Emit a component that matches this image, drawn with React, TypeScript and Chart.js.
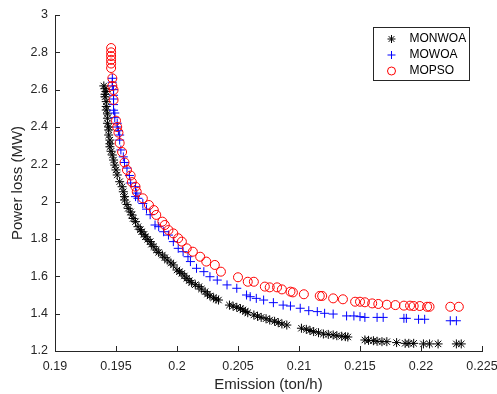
import React, { useEffect, useRef } from "react";
import { Chart, registerables } from "chart.js";

Chart.register(...registerables);

const seriesNames = ["MONWOA", "MOWOA", "MOPSO"];

const monwoaX = [0.1940, 0.1941, 0.1942, 0.1941, 0.1941, 0.1942, 0.1942, 0.1942, 0.1943, 0.1943, 0.1943, 0.1944, 0.1944, 0.1944, 0.1945, 0.1945, 0.1945, 0.1946, 0.1947, 0.1948, 0.1949, 0.1950, 0.1951, 0.1953, 0.1955, 0.1956, 0.1957, 0.1957, 0.1959, 0.1960, 0.1962, 0.1963, 0.1964, 0.1966, 0.1968, 0.1970, 0.1971, 0.1973, 0.1974, 0.1976, 0.1978, 0.1979, 0.1981, 0.1983, 0.1985, 0.1988, 0.1990, 0.1992, 0.1995, 0.1997, 0.2000, 0.2002, 0.2004, 0.2006, 0.2008, 0.2010, 0.2012, 0.2015, 0.2018, 0.2020, 0.2023, 0.2025, 0.2027, 0.2030, 0.2032, 0.2034, 0.2043, 0.2046, 0.2049, 0.2052, 0.2054, 0.2056, 0.2058, 0.2063, 0.2066, 0.2069, 0.2073, 0.2076, 0.2080, 0.2083, 0.2086, 0.2090, 0.2102, 0.2106, 0.2109, 0.2112, 0.2116, 0.2120, 0.2124, 0.2128, 0.2131, 0.2135, 0.2138, 0.2140, 0.2154, 0.2157, 0.2161, 0.2164, 0.2168, 0.2172, 0.2180, 0.2187, 0.2190, 0.2194, 0.2202, 0.2207, 0.2214, 0.2229, 0.2233];
const monwoaY = [2.620, 2.605, 2.590, 2.575, 2.562, 2.536, 2.510, 2.491, 2.470, 2.447, 2.420, 2.400, 2.384, 2.357, 2.330, 2.310, 2.294, 2.270, 2.250, 2.223, 2.196, 2.170, 2.143, 2.107, 2.080, 2.053, 2.027, 2.009, 1.985, 1.964, 1.945, 1.929, 1.910, 1.893, 1.866, 1.850, 1.839, 1.825, 1.812, 1.798, 1.786, 1.772, 1.759, 1.741, 1.728, 1.714, 1.700, 1.687, 1.672, 1.661, 1.634, 1.625, 1.616, 1.602, 1.589, 1.577, 1.566, 1.555, 1.545, 1.532, 1.518, 1.505, 1.495, 1.485, 1.478, 1.473, 1.446, 1.440, 1.434, 1.427, 1.420, 1.412, 1.405, 1.393, 1.386, 1.380, 1.373, 1.366, 1.359, 1.352, 1.345, 1.339, 1.322, 1.316, 1.310, 1.304, 1.298, 1.291, 1.289, 1.286, 1.282, 1.279, 1.277, 1.275, 1.259, 1.257, 1.255, 1.252, 1.250, 1.250, 1.245, 1.241, 1.241, 1.241, 1.238, 1.238, 1.238, 1.238, 1.238];

const mowoaX = [0.1947, 0.1947, 0.1947, 0.1948, 0.1948, 0.1948, 0.1948, 0.1948, 0.1949, 0.1949, 0.1951, 0.1951, 0.1952, 0.1953, 0.1953, 0.1954, 0.1956, 0.1957, 0.1959, 0.1961, 0.1962, 0.1966, 0.1967, 0.1966, 0.1968, 0.1972, 0.1975, 0.1978, 0.1982, 0.1985, 0.1989, 0.1993, 0.1997, 0.2001, 0.2005, 0.2009, 0.2011, 0.2016, 0.2022, 0.2027, 0.2033, 0.2041, 0.2049, 0.2057, 0.2060, 0.2065, 0.2071, 0.2079, 0.2087, 0.2093, 0.2101, 0.2108, 0.2115, 0.2121, 0.2128, 0.2139, 0.2145, 0.2150, 0.2154, 0.2164, 0.2169, 0.2186, 0.2188, 0.2198, 0.2203, 0.2224, 0.2229];
const mowoaY = [2.661, 2.640, 2.620, 2.600, 2.570, 2.550, 2.520, 2.490, 2.475, 2.450, 2.420, 2.400, 2.380, 2.357, 2.330, 2.277, 2.240, 2.210, 2.180, 2.140, 2.100, 2.080, 2.046, 2.027, 2.018, 1.990, 1.960, 1.930, 1.875, 1.866, 1.839, 1.821, 1.786, 1.750, 1.732, 1.705, 1.679, 1.643, 1.625, 1.598, 1.580, 1.554, 1.536, 1.500, 1.491, 1.482, 1.473, 1.459, 1.446, 1.441, 1.429, 1.416, 1.411, 1.402, 1.398, 1.388, 1.388, 1.384, 1.380, 1.380, 1.380, 1.375, 1.375, 1.370, 1.370, 1.362, 1.362];

const mopsoX = [0.1946, 0.1946, 0.1946, 0.1946, 0.1946, 0.1946, 0.1947, 0.1947, 0.1948, 0.1948, 0.1950, 0.1951, 0.1952, 0.1953, 0.1955, 0.1957, 0.1959, 0.1962, 0.1963, 0.1966, 0.1967, 0.1972, 0.1977, 0.1981, 0.1983, 0.1988, 0.1990, 0.1993, 0.1997, 0.2001, 0.2004, 0.2008, 0.2013, 0.2019, 0.2024, 0.2031, 0.2036, 0.2050, 0.2058, 0.2063, 0.2072, 0.2076, 0.2082, 0.2086, 0.2093, 0.2095, 0.2104, 0.2117, 0.2119, 0.2128, 0.2136, 0.2146, 0.2150, 0.2154, 0.2160, 0.2165, 0.2172, 0.2179, 0.2186, 0.2191, 0.2194, 0.2199, 0.2205, 0.2207, 0.2224, 0.2231];
const mopsoY = [2.823, 2.800, 2.780, 2.760, 2.740, 2.716, 2.661, 2.620, 2.598, 2.545, 2.434, 2.400, 2.370, 2.314, 2.266, 2.210, 2.170, 2.140, 2.105, 2.080, 2.053, 2.018, 1.982, 1.955, 1.929, 1.893, 1.875, 1.848, 1.830, 1.804, 1.786, 1.750, 1.732, 1.705, 1.679, 1.661, 1.625, 1.595, 1.571, 1.571, 1.545, 1.541, 1.541, 1.530, 1.518, 1.514, 1.504, 1.495, 1.495, 1.482, 1.477, 1.464, 1.464, 1.461, 1.455, 1.452, 1.448, 1.446, 1.443, 1.443, 1.441, 1.441, 1.437, 1.437, 1.437, 1.437];

const xTicks = [0.19, 0.195, 0.2, 0.205, 0.21, 0.215, 0.22, 0.225];
const yTicks = [1.2, 1.4, 1.6, 1.8, 2, 2.2, 2.4, 2.6, 2.8, 3];

const xTitle = "Emission (ton/h)";
const yTitle = "Power loss (MW)";

const colors = ["#000000", "#0000ff", "#ff0000"];
const styles = ["star", "cross", "circle"];
const radii = [4.5, 4.5, 4.5];

const axisColor = "#262626";
const FONT = "'Liberation Sans', Arial, Helvetica, sans-serif";

function toPoints(xs: number[], ys: number[]) {
  return xs.map((x, i) => ({ x, y: ys[i] }));
}

function drawMarker(ctx: CanvasRenderingContext2D, style: string, x: number, y: number, r: number, color: string) {
  ctx.save();
  ctx.strokeStyle = color;
  ctx.lineWidth = 1;
  ctx.beginPath();
  if (style === "circle") {
    ctx.arc(x, y, r, 0, Math.PI * 2);
  } else {
    ctx.moveTo(x - r, y);
    ctx.lineTo(x + r, y);
    ctx.moveTo(x, y - r);
    ctx.lineTo(x, y + r);
    if (style === "star") {
      const d = r * Math.SQRT1_2;
      ctx.moveTo(x - d, y - d);
      ctx.lineTo(x + d, y + d);
      ctx.moveTo(x - d, y + d);
      ctx.lineTo(x + d, y - d);
    }
  }
  ctx.stroke();
  ctx.restore();
}

const insideTicks = {
  id: "insideTicks",
  afterDraw(chart: any) {
    const { ctx, chartArea, scales } = chart;
    ctx.save();
    ctx.strokeStyle = axisColor;
    ctx.lineWidth = 1;
    scales.x.ticks.forEach((t: any) => {
      const px = Math.round(scales.x.getPixelForValue(t.value)) + 0.5;
      ctx.beginPath();
      ctx.moveTo(px, chartArea.bottom);
      ctx.lineTo(px, chartArea.bottom - 5);
      ctx.stroke();
    });
    scales.y.ticks.forEach((t: any) => {
      const py = Math.round(scales.y.getPixelForValue(t.value)) + 0.5;
      ctx.beginPath();
      ctx.moveTo(chartArea.left, py);
      ctx.lineTo(chartArea.left + 5, py);
      ctx.stroke();
    });
    ctx.restore();
  },
};

const boxLegend = {
  id: "boxLegend",
  afterDraw(chart: any) {
    const { ctx, chartArea } = chart;
    const w = 96;
    const h = 53;
    const bx = Math.round(chartArea.right - 109) + 0.5;
    const by = Math.round(chartArea.top + 12) + 0.5;
    ctx.save();
    ctx.fillStyle = "#ffffff";
    ctx.fillRect(bx, by, w, h);
    ctx.strokeStyle = axisColor;
    ctx.lineWidth = 1;
    ctx.strokeRect(bx, by, w, h);
    ctx.font = `12px ${FONT}`;
    ctx.textBaseline = "middle";
    ctx.textAlign = "left";
    seriesNames.forEach((name, i) => {
      const cy = by + 11.5 + i * 16;
      drawMarker(ctx, styles[i], bx + 18, cy, 4, colors[i]);
      ctx.fillStyle = "#000000";
      ctx.fillText(name, bx + 36, cy);
    });
    ctx.restore();
  },
};

export default function App() {
  const ref = useRef<HTMLCanvasElement | null>(null);

  useEffect(() => {
    if (!ref.current) return;
    const seriesX = [monwoaX, mowoaX, mopsoX];
    const seriesY = [monwoaY, mowoaY, mopsoY];
    const chart = new Chart(ref.current, {
      type: "scatter",
      data: {
        datasets: seriesNames.map((name, i) => ({
          label: name,
          data: toPoints(seriesX[i], seriesY[i]),
          pointStyle: styles[i] as any,
          pointRadius: radii[i],
          pointHoverRadius: radii[i],
          pointBorderWidth: 1,
          borderColor: colors[i],
          backgroundColor: "rgba(0,0,0,0)",
          pointBackgroundColor: "rgba(0,0,0,0)",
          showLine: false,
          order: 3 - i,
        })),
      },
      options: {
        responsive: false,
        animation: false,
        devicePixelRatio: 1,
        layout: { padding: { top: 15, right: 15, left: 0, bottom: 0 } },
        plugins: {
          legend: { display: false },
          tooltip: { enabled: false },
        },
        scales: {
          x: {
            type: "linear",
            min: 0.19,
            max: 0.225,
            afterBuildTicks: (s: any) => {
              s.ticks = xTicks.map((v) => ({ value: v }));
            },
            afterFit: (s: any) => {
              s.height = 43;
              s.paddingLeft = 0;
              s.paddingRight = 0;
            },
            grid: { display: false, drawTicks: false },
            border: { display: true, color: axisColor, width: 1 },
            ticks: {
              color: axisColor,
              font: { family: FONT, size: 12.5 },
              padding: 8,
              maxRotation: 0,
              autoSkip: false,
              callback: (v: any) => String(Number(Number(v).toFixed(4))),
            },
            title: {
              display: true,
              text: xTitle,
              color: axisColor,
              font: { family: FONT, size: 15 },
              padding: { top: 0, bottom: 0 },
            },
          },
          y: {
            type: "linear",
            min: 1.2,
            max: 3,
            afterBuildTicks: (s: any) => {
              s.ticks = yTicks.map((v) => ({ value: v }));
            },
            afterFit: (s: any) => {
              s.width = 55;
              s.paddingTop = 0;
              s.paddingBottom = 0;
            },
            grid: { display: false, drawTicks: false },
            border: { display: true, color: axisColor, width: 1 },
            ticks: {
              color: axisColor,
              font: { family: FONT, size: 12.5 },
              padding: 7,
              autoSkip: false,
              callback: (v: any) => String(Number(Number(v).toFixed(4))),
            },
            title: {
              display: true,
              text: yTitle,
              color: axisColor,
              font: { family: FONT, size: 15 },
              padding: { top: 9, bottom: 0 },
            },
          },
        },
      },
      plugins: [insideTicks, boxLegend],
    });
    return () => chart.destroy();
  }, []);

  return (
    <div style={{ position: "absolute", left: 0, top: 0, width: 497, height: 394, background: "#ffffff" }}>
      <canvas ref={ref} width={497} height={394} style={{ display: "block" }} />
    </div>
  );
}
